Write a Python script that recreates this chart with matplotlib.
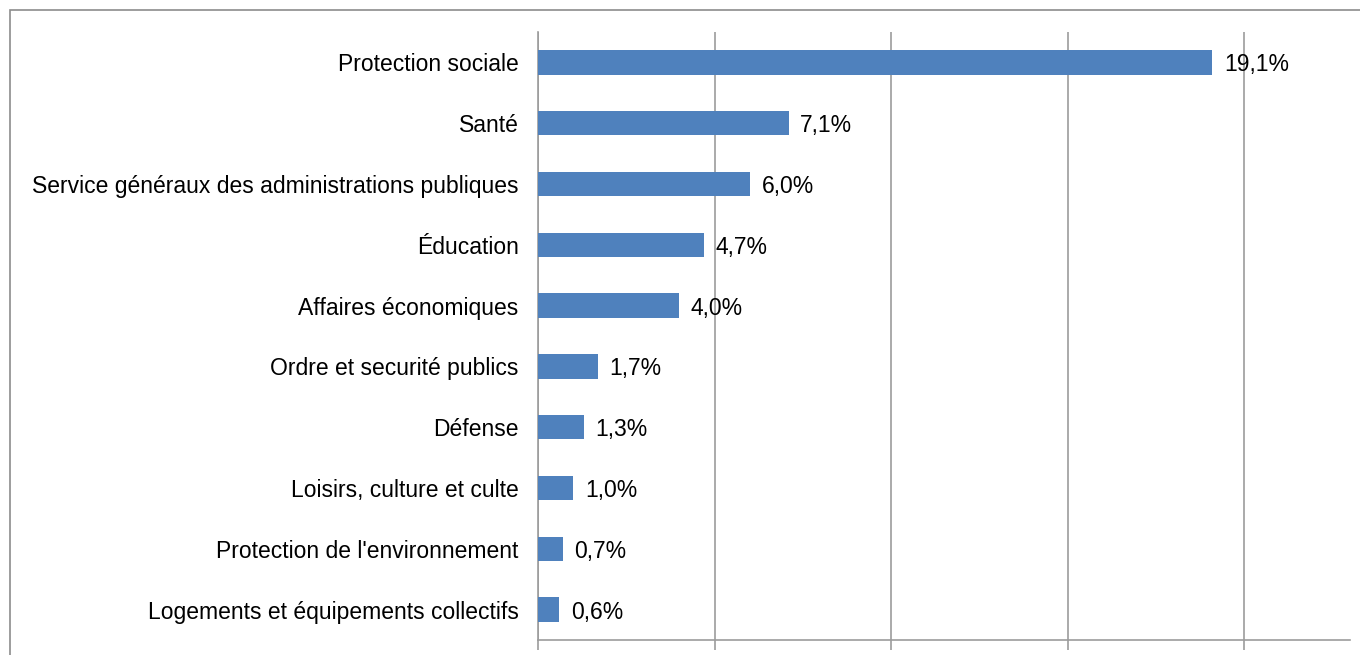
import matplotlib
matplotlib.use("Agg")
import matplotlib.pyplot as plt
import matplotlib.patches as mpatches

# ── données ────────────────────────────────────────────────
categories = [
    "Protection sociale",
    "Santé",
    "Service généraux des administrations publiques",
    "Éducation",
    "Affaires économiques",
    "Ordre et securité publics",
    "Défense",
    "Loisirs, culture et culte",
    "Protection de l'environnement",
    "Logements et équipements collectifs",
]
values = [19.1, 7.1, 6.0, 4.7, 4.0, 1.7, 1.3, 1.0, 0.7, 0.6]
x_ticks = [0, 5, 10, 15, 20]

BAR_COLOR = "#4F81BD"
GRID_COLOR = "#9C9C9C"

plt.rcParams["font.family"] = ["Liberation Sans", "DejaVu Sans"]

fig = plt.figure(figsize=(13.6, 6.55), dpi=100)

# cadre du graphique (coupé à droite et en bas)
frame = mpatches.Rectangle((10 / 1360, -0.1), 1.2, 1 - 10 / 655 + 0.1,
                           transform=fig.transFigure, fill=False,
                           edgecolor="#8C8C8C", linewidth=1.2)
fig.add_artist(frame)

ax = fig.add_axes([538 / 1360, 1 - 640 / 655, (1350 - 538) / 1360, (640 - 32) / 655])

ypos = list(range(len(categories)))
ax.barh(ypos, values, height=0.4, color=BAR_COLOR, zorder=3)

for y, v in zip(ypos, values):
    ax.text(v + 0.33, y, f"{v:.1f}%".replace(".", ","), va="center_baseline",
            ha="left", fontsize=16.5, color="black", zorder=4)

ax.set_xlim(0, 23)
ax.set_ylim(len(categories) - 0.5, -0.5)
ax.set_yticks(ypos)
ax.set_yticklabels(categories, fontsize=16.5, va="center_baseline")
ax.set_xticks(x_ticks)
ax.set_xticklabels([])
ax.tick_params(axis="y", length=0, pad=14)
ax.tick_params(axis="x", length=7, color=GRID_COLOR, width=1.2)

ax.grid(axis="x", color=GRID_COLOR, linewidth=1.2, zorder=0)
for side in ["top", "right"]:
    ax.spines[side].set_visible(False)
ax.spines["left"].set_color(GRID_COLOR)
ax.spines["bottom"].set_color(GRID_COLOR)
ax.spines["left"].set_linewidth(1.2)
ax.spines["bottom"].set_linewidth(1.2)

fig.savefig("out.png", dpi=100)
